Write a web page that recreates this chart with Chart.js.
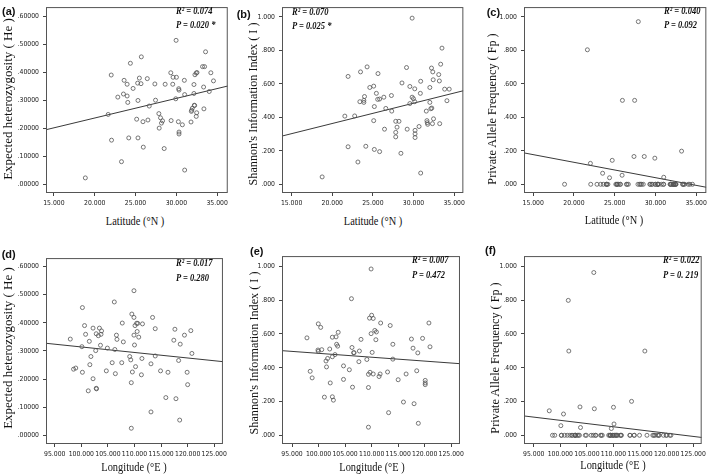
<!DOCTYPE html>
<html><head><meta charset="utf-8">
<script src="https://cdn.jsdelivr.net/npm/chart.js@4/dist/chart.umd.min.js"></script>
<style>
html,body{margin:0;padding:0;background:#fff;width:709px;height:475px;overflow:hidden;position:relative}
canvas{position:absolute}
.t{position:absolute;white-space:nowrap;color:#111;line-height:1}
.lab{font:bold 11px 'Liberation Sans',Arial,sans-serif;transform:translateY(-50%)}
.xt{font:13px 'Liberation Serif','Times New Roman',serif;transform:translate(-50%,-50%) scaleX(.8)}
.yt{font-family:'Liberation Serif','Times New Roman',serif;transform:translate(-50%,-50%) rotate(-90deg)}
.an{font:italic bold 10px 'Liberation Serif','Times New Roman',serif;transform-origin:0 50%;transform:translateY(-50%) scaleX(.85)}
</style></head><body>
<script>
// ---------- data ----------
const latTicks = [15, 20, 25, 30, 35];
const lonTicks = [95, 100, 105, 110, 115, 120, 125];
const heTicks = [0, 0.1, 0.2, 0.3, 0.4, 0.5, 0.6];
const unitTicks = [0, 0.2, 0.4, 0.6, 0.8, 1.0];

// (a) latitude vs expected heterozygosity
const latA = [18.85,21.65,22.02,22.06,22.83,23.28,23.52,23.60,23.97,23.97,24.05,24.17,24.37,24.70,25.14,25.26,25.30,25.30,25.47,25.67,25.71,25.91,25.95,26.44,26.52,26.68,27.37,27.45,27.86,27.90,28.06,28.18,28.31,28.51,28.63,29.32,29.36,29.56,29.60,29.93,29.97,30.01,30.25,30.29,30.33,30.33,30.33,30.74,30.98,31.02,31.02,31.80,31.84,31.88,31.96,32.16,32.16,32.20,32.24,32.28,32.44,32.44,32.49,32.53,33.21,33.34,33.38,33.46,33.58,34.03,34.23,34.55];
const heA = [.023,.250,.391,.158,.312,.081,.323,.372,.358,.316,.293,.166,.433,.343,.233,.362,.166,.300,.380,.360,.456,.224,.133,.378,.230,.280,.359,.301,.253,.201,.238,.219,.227,.128,.358,.399,.228,.358,.383,.306,.515,.383,.224,.342,.337,.187,.180,.213,.372,.321,.051,.223,.261,.265,.272,.357,.325,.283,.282,.392,.398,.243,.256,.400,.421,.348,.270,.421,.474,.332,.399,.370];

// (b) latitude vs Shannon's information index
const latB = [18.76,21.55,21.95,21.95,22.76,23.16,23.40,23.48,23.89,23.97,23.89,24.13,24.29,24.62,25.10,25.10,25.18,25.18,25.43,25.59,25.63,25.83,25.83,26.35,26.43,26.59,27.28,27.32,27.81,27.81,27.81,27.97,28.21,28.45,28.58,29.14,29.22,29.55,29.55,29.83,29.83,29.99,30.15,30.15,30.19,30.19,30.19,30.68,30.84,30.88,30.88,31.57,31.65,31.69,31.74,32.01,32.01,32.13,32.21,32.25,32.33,32.37,32.42,32.46,33.10,33.18,33.22,33.34,33.50,33.83,34.11,34.39];
const shB = [.044,.407,.644,.224,.408,.133,.493,.671,.501,.524,.489,.227,.701,.578,.586,.380,.464,.208,.543,.507,.661,.509,.195,.520,.329,.453,.530,.437,.376,.310,.283,.341,.376,.185,.605,.697,.329,.584,.482,.992,.520,.511,.570,.493,.322,.301,.279,.345,.543,.615,.067,.437,.380,.368,.358,.578,.489,.451,.694,.455,.362,.671,.624,.391,.655,.617,.362,.717,.813,.568,.499,.568];

// (c) latitude vs private allele frequency (same populations as latA)
const fpC = [0,.803,.125,0,0,0,.066,0,0,0, 0,0,.039,.143,0,0,0,0,0,0, 0,.054,.501,0,0,0,.166,.501,0,.971, 0,0,0,0,.166,0,0,0,0,.156, 0,0,0,0,0,0,0,0,0,.042, 0,0,0,0,0,0,0,0,0,0, 0,0,0,0,.198,0,0,0,0,0, 0,0];

// (d) longitude vs expected heterozygosity
const lonD = [97.92,98.53,98.95,100.1,100.2,100.2,100.6,100.8,101.3,101.5,101.6,101.8,102.2,102.2,102.7,102.8,102.8,102.85,103.2,103.4,103.6,103.7,103.8,104.7,104.9,105.8,106.2,106.3,106.4,106.6,106.7,107.6,107.7,107.9,109.1,109.3,109.4,109.4,109.5,109.6,109.9,109.9,109.9,110.0,110.1,110.2,110.4,110.5,110.6,110.8,111.3,111.4,111.5,113.1,113.1,113.4,113.9,113.9,114.9,115.9,116.3,117.4,117.6,117.8,118.3,118.5,118.6,119.4,119.9,120.0,120.6,120.8];
const heD = [.342,.235,.239,.315,.454,.224,.390,.359,.158,.334, .251,.280,.201,.381,.301,.361,.167,.165,.354,.381, .320,.359,.371,.229,.310,.258,.474,.305,.219,.356, .341,.258,.399,.332,.280,.268,.187,.025,.431,.225, .514,.419,.356,.321,.390,.244,.398,.369,.398,.349, .215,.273,.396,.254,.083,.419,.379,.282,.229,.134, .224,.338,.377,.130,.266,.054,.324,.356,.224,.180, .372,.291];

// (e) longitude vs Shannon's information index
const lonE = [97.81,98.42,98.79,99.89,99.95,99.95,100.4,100.6,101.1,101.4,101.5,101.7,102.1,102.2,102.6,102.6,102.6,102.8,103.1,103.3,103.4,103.6,103.7,104.7,104.7,105.8,106.2,106.3,106.4,106.6,106.7,107.6,107.7,108.0,109.1,109.4,109.4,109.4,109.6,109.7,109.9,109.9,110.0,110.1,110.3,110.3,110.6,110.8,110.9,111.4,111.6,111.7,113.0,113.2,113.5,114.0,114.0,115.0,116.0,116.5,117.5,117.8,118.0,118.5,118.7,118.8,119.6,120.1,120.1,120.1,120.8,121.0];
const shE = [.577,.379,.340,.505,.660,.497,.639,.507,.226,.440, .405,.455,.511,.310,.465,.581,.228,.208,.478,.583, .539,.528,.610,.411,.331,.388,.809,.520,.285,.489, .489,.436,.499,.568,.449,.361,.048,.283,.694,.373, .985,.602,.711,.491,.692,.363,.621,.566,.612,.348, .363,.665,.375,.134,.650,.539,.451,.329,.197,.363, .570,.516,.187,.382,.488,.071,.574,.325,.310,.300, .665,.524];

// (f) longitude vs private allele frequency (same populations as lonD)
const fpF = [.145,0,0,.057,0,0,.126,0,0,.799, .499,0,0,0,0,0,0,0,0,0, 0,.168,.046,0,0,0,0,.964,.157,0, 0,0,0,0,0,0,0,0,0,.040, 0,0,0,.166,.067,0,0,0,0,0, 0,0,0,0,0,.201,0,0,0,.499, 0,0,0,0,0,0,0,0,0,0, 0,0];

// regression lines (intercept, slope) per panel a..f
const fitIntercept = [0.0968, 0.1203, 0.3146, 0.510, 0.7154, 0.4695];
const fitSlope = [0.00702, 0.01213, -0.00917, -0.00196, -0.0023, -0.00381];

const panelLetters = ['(a)','(b)','(c)','(d)','(e)','(f)'];
const xTitles = ['Latitude (°N )','Latitude (°N )','Latitude (°N )','Longitude (°E )','Longitude (°E )','Longitude (°E )'];
const yTitles = ['Expected heterozygosity ( He )',"Shannon's Information Index ( I )",'Private Allele  Frequency ( Fp )','Expected heterozygosity ( He )',"Shannon's Information Index ( I )",'Private Allele  Frequency ( Fp )'];
const rTexts = ['R² = 0.074','R² = 0.070','R² = 0.040','R² = 0.017','R² = 0.007','R² = 0.022'];
const pTexts = ['P = 0.020 *','P = 0.025 *','P = 0.092','P = 0.280','P = 0.472','P = 0. 219'];

// ---------- layout ----------
const panels = [
  {xs:latA, ys:heA, box:[46,1,229,193],  xr:[14.03,36.30], yr:[-0.031,0.634], xt:latTicks, yt:heTicks, dec:5,
   lab:[2,10.7], xtp:[134.5,221], ytp:[7,99,13], an:[176,10,24]},
  {xs:latB, ys:shB, box:[282,1,466,193], xr:[13.82,36.13], yr:[-0.052,1.058], xt:latTicks, yt:unitTicks, dec:3,
   lab:[236.7,13.7], xtp:[372.5,221], ytp:[253,104,12.2], an:[292.3,11,25]},
  {xs:latA, ys:fpC, box:[524,1,708,193], xr:[13.87,36.25], yr:[-0.052,1.058], xt:latTicks, yt:unitTicks, dec:3,
   lab:[486.7,12.3], xtp:[614,220], ytp:[492,109,12.2], an:[664.3,10,24]},
  {xs:lonD, ys:heD, box:[46,252,228,444], xr:[93.35,126.64], yr:[-0.031,0.630], xt:lonTicks, yt:heTicks, dec:5,
   lab:[1.7,254.3], xtp:[134,467], ytp:[6.7,348.3,13], an:[175.7,261.7,276.7]},
  {xs:lonE, ys:shE, box:[282,250,465,444], xr:[93.11,126.65], yr:[-0.0516,1.0614], xt:lonTicks, yt:unitTicks, dec:3,
   lab:[250,251], xtp:[371.7,467], ytp:[253.5,353,12.2], an:[411.7,259,274]},
  {xs:lonD, ys:fpF, box:[524,250,707,444], xr:[93.17,126.59], yr:[-0.0516,1.0614], xt:lonTicks, yt:unitTicks, dec:3,
   lab:[485,250], xtp:[613,465], ytp:[495,357.5,12.2], an:[663.3,259,274]}
];

const tickFont = {family:"'Liberation Sans Narrow','Arial Narrow','DejaVu Sans Condensed',sans-serif", size:6.8};

const boxPlugin = {
  id:'box',
  afterDraw(c){
    const {ctx, chartArea:a} = c;
    ctx.save();
    ctx.strokeStyle = '#555';
    ctx.lineWidth = 1;
    ctx.strokeRect(a.left+0.5, a.top+0.5, a.right-a.left-1, a.bottom-a.top-1);
    ctx.restore();
  }
};

function addText(cls, txt, x, y, extra){
  const d = document.createElement('div');
  d.className = 't ' + cls;
  d.textContent = txt;
  d.style.left = x + 'px';
  d.style.top = y + 'px';
  if (extra) Object.assign(d.style, extra);
  document.body.appendChild(d);
}

panels.forEach((p, i) => {
  const cv = document.createElement('canvas');
  const cx = p.box[0] - 40, cy = p.box[1] - 2;
  const w = p.box[2] - cx + 2, h = p.box[3] - cy + 20;
  cv.width = w; cv.height = h;
  cv.style.left = cx + 'px'; cv.style.top = cy + 'px';
  cv.style.width = w + 'px'; cv.style.height = h + 'px';
  document.body.appendChild(cv);
  const [xmin, xmax] = p.xr;
  new Chart(cv, {
    type: 'scatter',
    data: {datasets: [
      {data: p.xs.map((x, k) => ({x, y: p.ys[k]})), pointRadius: 2, pointHoverRadius: 2,
       pointBorderWidth: 0.8, borderColor: '#555', backgroundColor: 'rgba(255,255,255,0)'},
      {type: 'line', data: [xmin, xmax].map(x => ({x, y: fitIntercept[i] + fitSlope[i] * x})),
       borderColor: '#3a3a3a', borderWidth: 1, pointRadius: 0, fill: false}
    ]},
    options: {
      responsive: false, animation: false, devicePixelRatio: 1,
      layout: {padding: {top: 2, right: 2, left: 0, bottom: 0}},
      plugins: {legend: {display: false}, tooltip: {enabled: false}},
      scales: {
        x: {type: 'linear', min: xmin, max: xmax,
            afterFit(s){ s.height = 20; },
            afterBuildTicks(s){ s.ticks = p.xt.map(v => ({value: v})); },
            grid: {display: true, drawOnChartArea: false, drawTicks: true, tickLength: 3, color: '#444'},
            border: {display: false},
            ticks: {font: tickFont, color: '#1a1a1a', padding: 3, maxRotation: 0, autoSkip: false,
                    callback: v => Number(v).toFixed(3)}},
        y: {type: 'linear', min: p.yr[0], max: p.yr[1],
            afterFit(s){ s.width = 40; },
            afterBuildTicks(s){ s.ticks = p.yt.map(v => ({value: v})); },
            grid: {display: true, drawOnChartArea: false, drawTicks: true, tickLength: 3, color: '#444'},
            border: {display: false},
            ticks: {font: tickFont, color: '#1a1a1a', padding: 4, autoSkip: false,
                    callback: v => Number(v).toFixed(p.dec).replace(/^0\./, '.')}}
      }
    },
    plugins: [boxPlugin]
  });
  addText('lab', panelLetters[i], p.lab[0], p.lab[1]);
  addText('xt', xTitles[i], p.xtp[0], p.xtp[1]);
  addText('yt', yTitles[i], p.ytp[0], p.ytp[1], {fontSize: p.ytp[2] + 'px'});
  addText('an', rTexts[i], p.an[0], p.an[1]);
  addText('an', pTexts[i], p.an[0], p.an[2]);
});
</script>
</body></html>
